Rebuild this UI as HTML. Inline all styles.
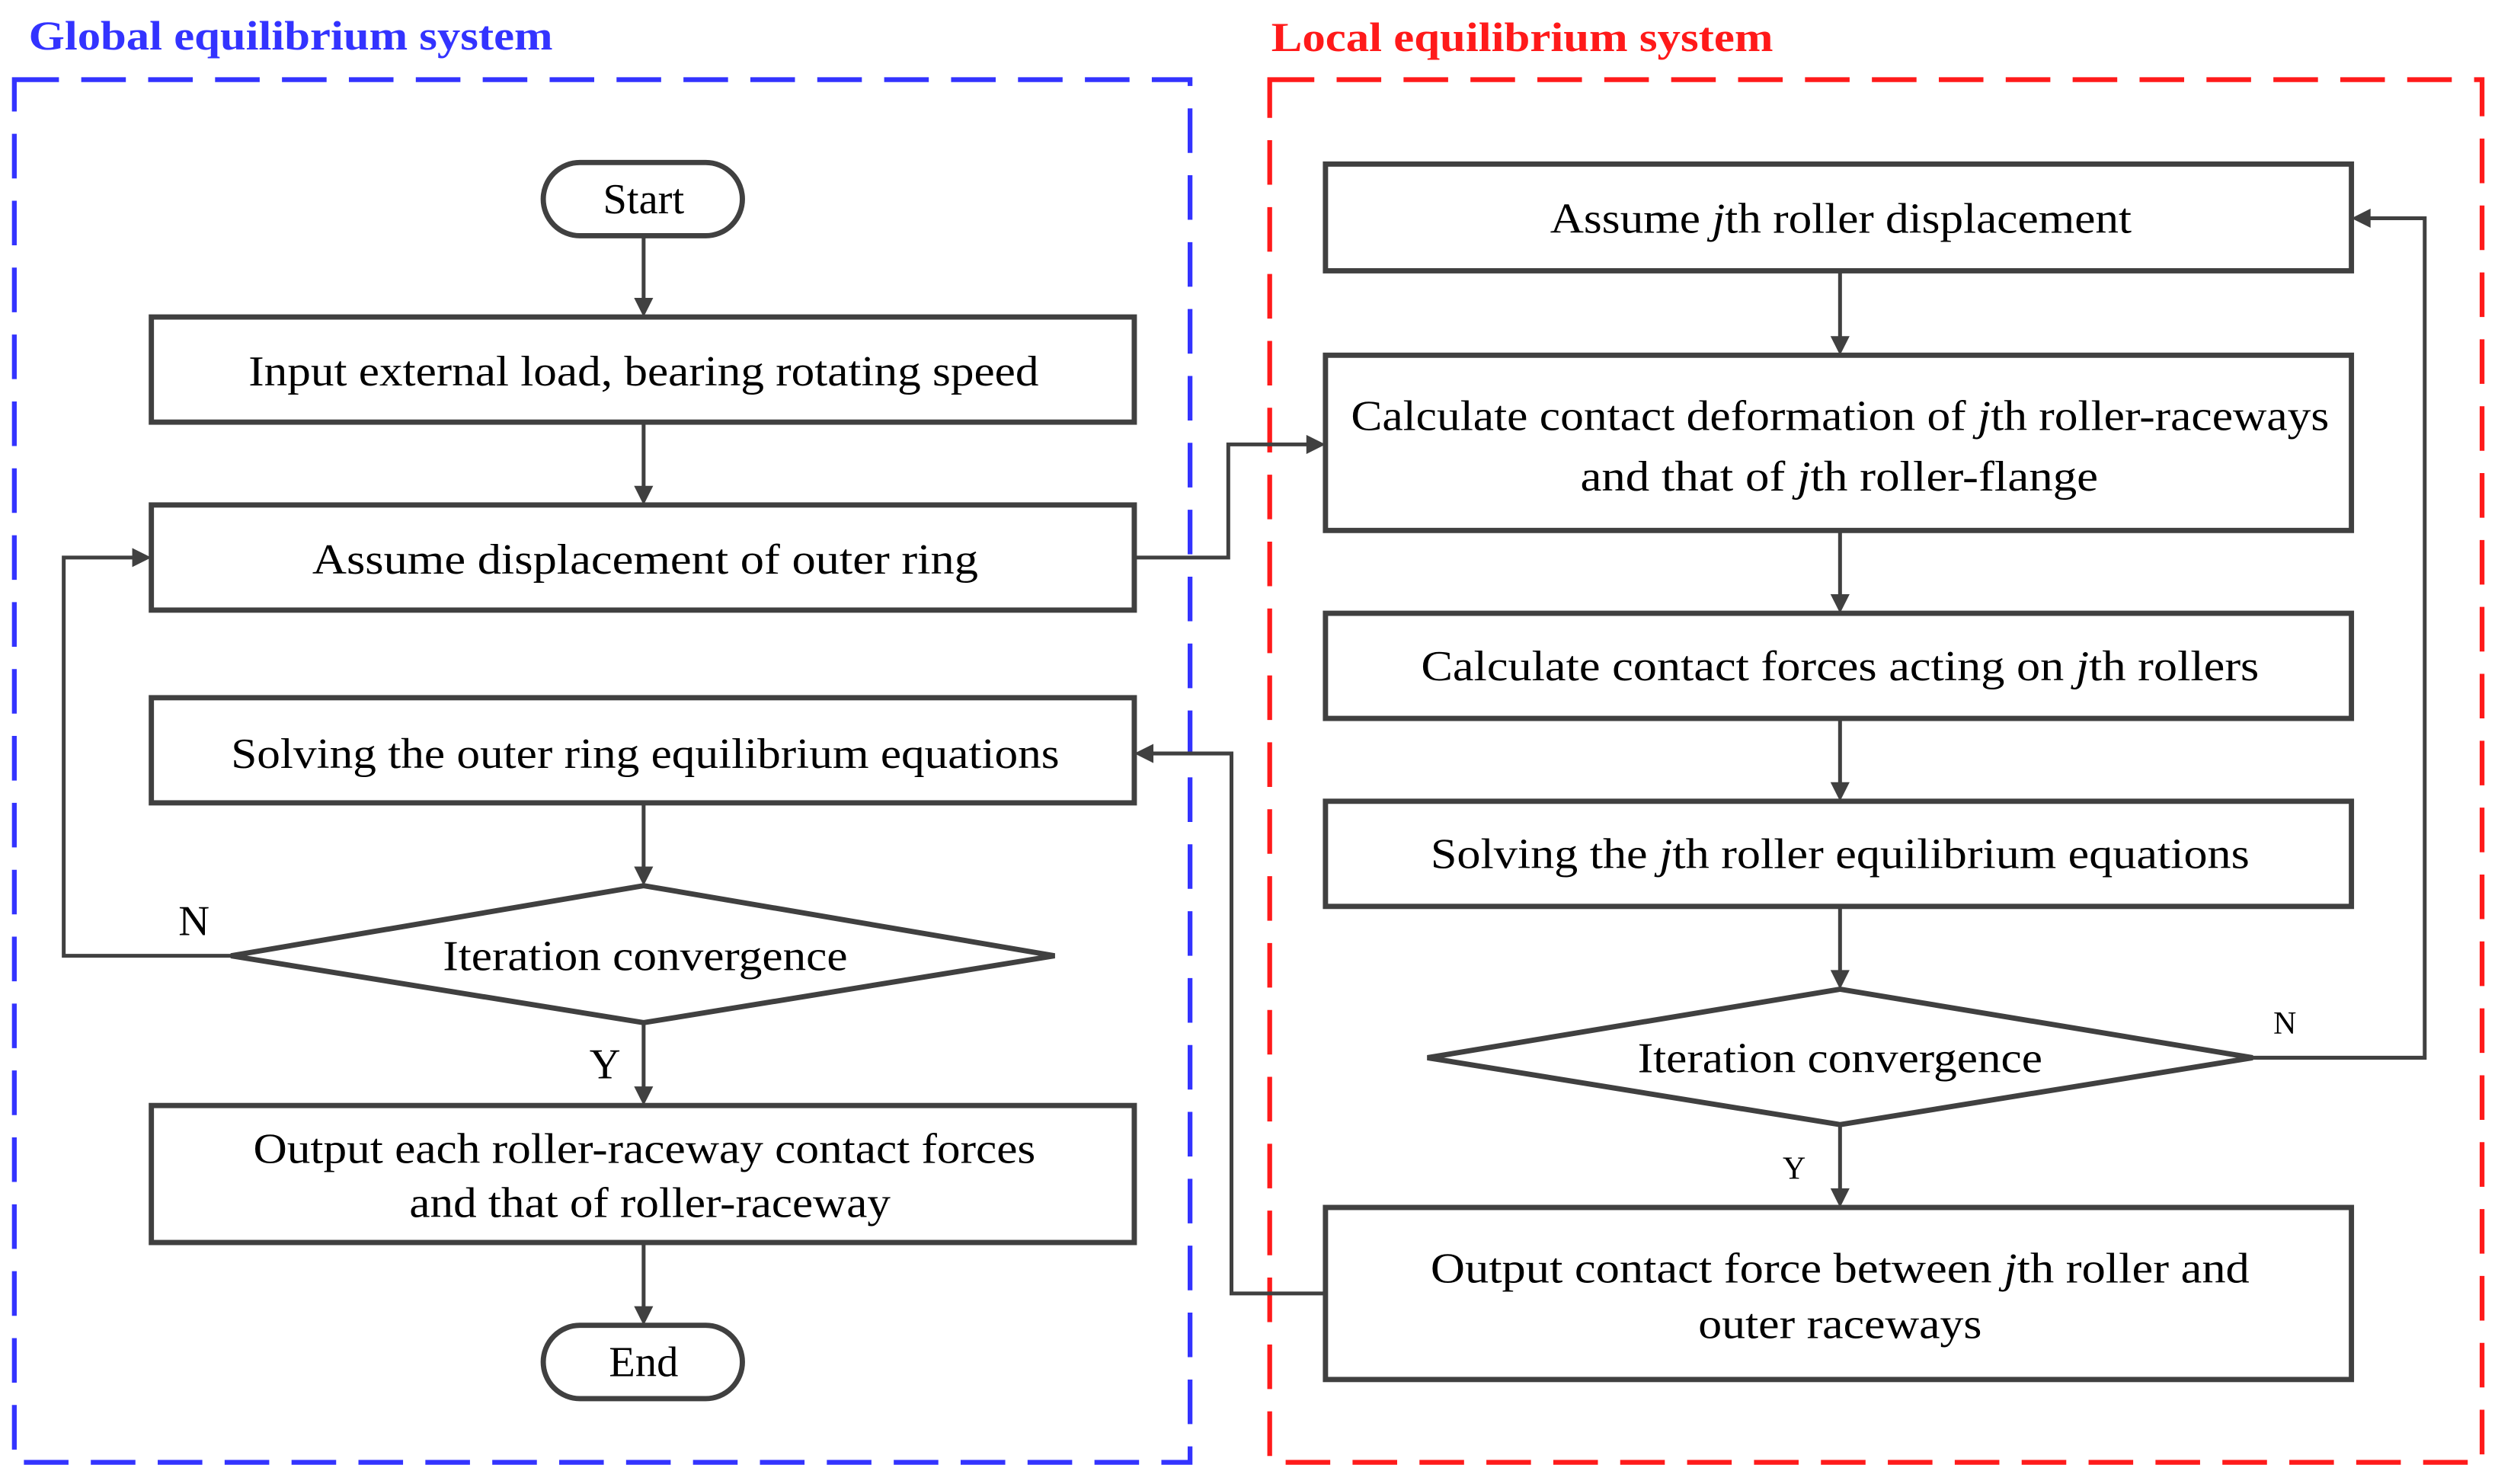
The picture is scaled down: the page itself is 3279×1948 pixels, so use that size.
<!DOCTYPE html>
<html><head><meta charset="utf-8"><style>html,body{margin:0;padding:0;background:#fff}svg{display:block}</style></head>
<body>
<svg width="3279" height="1948" viewBox="0 0 1568 931.6" preserveAspectRatio="none" xmlns="http://www.w3.org/2000/svg">
<defs><marker id="a" markerWidth="8" markerHeight="8" refX="7.5" refY="4" orient="auto" markerUnits="userSpaceOnUse" viewBox="0 0 8 8"></marker>
</defs>
<style>
text{font-family:"Liberation Serif",serif;font-size:27px;fill:#000}
.b{fill:#fff;stroke:#404040;stroke-width:3.3}
.l{fill:none;stroke:#404040;stroke-width:2.4}
.h{fill:#404040}
</style>
<text x="18" y="31" fill="#3333ff" style="fill:#3333ff;font-weight:bold;font-size:26px" textLength="329" lengthAdjust="spacingAndGlyphs">Global equilibrium system</text>
<text x="798" y="32" style="fill:#ff1a1a;font-weight:bold;font-size:26px" textLength="315" lengthAdjust="spacingAndGlyphs">Local equilibrium system</text>
<rect x="9" y="50" width="738" height="868" fill="none" stroke="#3333ff" stroke-width="3" stroke-dasharray="28 14"/>
<rect x="797" y="50" width="761" height="868" fill="none" stroke="#ff1a1a" stroke-width="3" stroke-dasharray="28 14"/>

<!-- connectors left -->
<g class="l">
<path d="M404 148V190M404 265V308M404 504V547M404 642V685M404 780V823"/>
<path d="M145 600H40V350H86"/>
<path d="M712 350H771V279H823"/>
<path d="M832 812H773V473H721"/>
<path d="M1155 170V214M1155 333V376M1155 451V494M1155 569V612M1155 706V749"/>
<path d="M1414 664H1522V137H1485"/>
</g>
<g class="h">
<path d="M398 187L410 187L404 199Z"/><path d="M398 305L410 305L404 317Z"/><path d="M398 544L410 544L404 556Z"/><path d="M398 682L410 682L404 694Z"/><path d="M398 820L410 820L404 832Z"/>
<path d="M83 344L83 356L95 350Z"/><path d="M820 273L820 285L832 279Z"/><path d="M724 467L724 479L712 473Z"/>
<path d="M1149 211L1161 211L1155 223Z"/><path d="M1149 373L1161 373L1155 385Z"/><path d="M1149 491L1161 491L1155 503Z"/><path d="M1149 609L1161 609L1155 621Z"/><path d="M1149 746L1161 746L1155 758Z"/>
<path d="M1488 131L1488 143L1476 137Z"/>
</g>

<!-- left nodes -->
<rect class="b" x="341" y="102" width="125" height="46" rx="23"/>
<text x="404" y="134" text-anchor="middle">Start</text>
<rect class="b" x="95" y="199" width="617" height="66"/>
<text x="156" y="242" textLength="496" lengthAdjust="spacingAndGlyphs">Input external load, bearing rotating speed</text>
<rect class="b" x="95" y="317" width="617" height="66"/>
<text x="196" y="360" textLength="418" lengthAdjust="spacingAndGlyphs">Assume  displacement of outer ring</text>
<rect class="b" x="95" y="438" width="617" height="66"/>
<text x="145" y="482" textLength="520" lengthAdjust="spacingAndGlyphs">Solving the outer ring equilibrium equations</text>
<path class="b" d="M145 600L404 556L662 600L404 642Z"/>
<text x="278" y="609" textLength="254" lengthAdjust="spacingAndGlyphs">Iteration convergence</text>
<text x="112" y="587">N</text>
<text x="370" y="677">Y</text>
<rect class="b" x="95" y="694" width="617" height="86"/>
<text x="159" y="730" textLength="491" lengthAdjust="spacingAndGlyphs">Output each roller-raceway contact forces</text>
<text x="257" y="764" textLength="302" lengthAdjust="spacingAndGlyphs">and that of roller-raceway</text>
<rect class="b" x="341" y="832" width="125" height="46" rx="23"/>
<text x="404" y="864" text-anchor="middle">End</text>

<!-- right nodes -->
<rect class="b" x="832" y="103" width="644" height="67"/>
<text x="973" y="146" textLength="365" lengthAdjust="spacingAndGlyphs">Assume <tspan font-style="italic">j</tspan>th roller displacement</text>
<rect class="b" x="832" y="223" width="644" height="110"/>
<text x="848" y="270" textLength="614" lengthAdjust="spacingAndGlyphs">Calculate contact deformation of <tspan font-style="italic">j</tspan>th roller-raceways</text>
<text x="992" y="308" textLength="325" lengthAdjust="spacingAndGlyphs">and that of  <tspan font-style="italic">j</tspan>th roller-flange</text>
<rect class="b" x="832" y="385" width="644" height="66"/>
<text x="892" y="427" textLength="526" lengthAdjust="spacingAndGlyphs">Calculate contact forces acting on  <tspan font-style="italic">j</tspan>th rollers</text>
<rect class="b" x="832" y="503" width="644" height="66"/>
<text x="898" y="545" textLength="514" lengthAdjust="spacingAndGlyphs">Solving the  <tspan font-style="italic">j</tspan>th roller equilibrium equations</text>
<path class="b" d="M896 664L1155 621L1414 664L1155 706Z"/>
<text x="1028" y="673" textLength="254" lengthAdjust="spacingAndGlyphs">Iteration convergence</text>
<text x="1427" y="649" style="font-size:20px">N</text>
<text x="1119" y="740" style="font-size:20px">Y</text>
<rect class="b" x="832" y="758" width="644" height="108"/>
<text x="898" y="805" textLength="514" lengthAdjust="spacingAndGlyphs">Output contact force between  <tspan font-style="italic">j</tspan>th roller and</text>
<text x="1066" y="840" textLength="178" lengthAdjust="spacingAndGlyphs">outer raceways</text>
</svg>
</body></html>
